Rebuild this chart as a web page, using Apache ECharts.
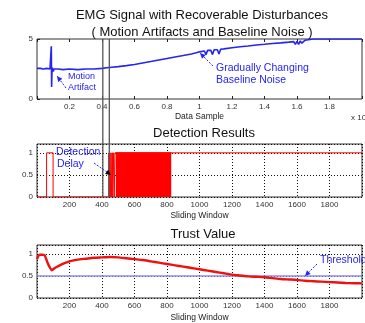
<!DOCTYPE html>
<html>
<head>
<meta charset="utf-8">
<title>EMG Signal</title>
<style>
  html, body { margin: 0; padding: 0; background: #fff; }
  #chart { width: 365px; height: 323px; }
</style>
</head>
<body>
<div id="chart"></div>
<script src="https://cdn.jsdelivr.net/npm/echarts@6.0.0/dist/echarts.min.js"></script>
<script>
// top plot: EMG signal (x in units of 10^4 samples)
var emgX = [0, 0.02, 0.04, 0.06, 0.08, 0.086, 0.088, 0.09, 0.092, 0.095, 0.1, 0.105, 0.11, 0.13, 0.16, 0.2, 0.25, 0.3, 0.35, 0.4,
  0.43, 0.46, 0.5, 0.55, 0.6, 0.65, 0.7, 0.75, 0.8, 0.85, 0.9, 0.95, 0.98, 1.0, 1.03, 1.04, 1.05, 1.07, 1.08, 1.09,
  1.11, 1.12, 1.13, 1.15, 1.2, 1.25, 1.3, 1.35, 1.4, 1.45, 1.5, 1.55, 1.58, 1.59, 1.6, 1.61, 1.62, 1.63, 1.65, 1.68,
  1.7, 1.8, 1.9, 2.0];
var emgY = [2.55, 2.55, 2.5, 2.55, 2.5, 2.4, 4.4, 1.0, 2.2, 2.6, 2.3, 2.5, 2.45, 2.5, 2.45, 2.5, 2.45, 2.5, 2.5, 2.55,
  2.6, 2.65, 2.7, 2.78, 2.88, 3.0, 3.12, 3.25, 3.38, 3.5, 3.62, 3.75, 3.85, 3.93, 4.0, 3.7, 4.05, 4.05, 3.7, 4.1,
  4.1, 3.75, 4.15, 4.18, 4.27, 4.35, 4.42, 4.5, 4.56, 4.63, 4.68, 4.74, 4.78, 4.55, 4.8, 4.55, 4.84, 4.65, 4.9, 4.96,
  5, 5, 5, 5];
var topTickLabels = ['0.2', '0.4', '0.6', '0.8', '1', '1.2', '1.4', '1.6', '1.8'];
var delayMarks = [0.405, 0.445];   // the two grey lines, in top-plot units

// middle plot: detection results (0/1)
var detX = [0, 59, 59, 99, 99, 442, 442, 444, 444, 449, 449, 451, 451, 456, 456, 459, 459, 464, 464, 466, 466, 472, 472, 475, 475, 480, 480, 2000];
var detY = [0, 0, 1, 1, 0, 0, 1, 1, 0, 0, 1, 1, 0, 0, 1, 1, 0, 0, 1, 1, 0, 0, 1, 1, 0, 0, 1, 1];
var burstStart = 485, burstEnd = 826;   // dense toggling, drawn solid

// bottom plot: trust value
var trustX = [0, 8, 16, 30, 46, 55, 65, 78, 91, 110, 140, 170, 200, 250, 300, 350, 400, 450, 500, 550, 600, 650, 700, 750,
  800, 850, 900, 950, 1000, 1050, 1100, 1150, 1200, 1250, 1300, 1350, 1400, 1450, 1500, 1550, 1600, 1650, 1700, 1750,
  1800, 1850, 1900, 1950, 2000];
var trustY = [0.88, 0.95, 0.98, 0.98, 0.97, 0.9, 0.8, 0.7, 0.63, 0.68, 0.74, 0.79, 0.83, 0.87, 0.89, 0.91, 0.92, 0.93, 0.92, 0.9, 0.88, 0.86, 0.83, 0.8,
  0.77, 0.74, 0.71, 0.68, 0.65, 0.62, 0.59, 0.56, 0.53, 0.51, 0.49, 0.48, 0.47, 0.45, 0.43, 0.42, 0.41, 0.39, 0.38, 0.37,
  0.36, 0.35, 0.34, 0.335, 0.33];
var threshold = 0.5;
var winTickLabels = ['200', '400', '600', '800', '1000', '1200', '1400', '1600', '1800'];
var detYTicks = ['0', '0.5', '1'];

function zip(a, b) { return a.map(function (v, i) { return [v, b[i]]; }); }

var FONT = 'Liberation Sans';
var BLUE = '#2424f5';

var chart = echarts.init(document.getElementById('chart'), null, { renderer: 'canvas' });

var gridBox = { show: true, borderColor: '#333', borderWidth: 1, backgroundColor: '#fff' };
var tick = { inside: true, length: 3, lineStyle: { color: '#222' } };
var dotted = { show: true, lineStyle: { color: '#111', type: [1, 2], width: 1 } };
var lbl = function (list) {
  return {
    fontFamily: FONT, fontSize: 8, color: '#333', margin: 4,
    formatter: function (v) { var s = String(+v.toFixed(3)); return list.indexOf(s) >= 0 ? s : ''; }
  };
};
var nameStyle = { fontFamily: FONT, fontSize: 8.5, color: '#222' };

var option = {
  animation: false,
  backgroundColor: '#fff',
  grid: [
    Object.assign({ left: 37, top: 39, width: 330, height: 60 }, gridBox),
    Object.assign({ left: 37, top: 144, width: 330, height: 53 }, gridBox),
    Object.assign({ left: 37, top: 245, width: 330, height: 53 }, gridBox)
  ],
  xAxis: [
    { gridIndex: 0, type: 'value', min: 0, max: 2, interval: 0.2, axisLine: { show: false }, axisTick: tick,
      splitLine: { show: false }, axisLabel: lbl(topTickLabels),
      name: 'Data Sample', nameLocation: 'middle', nameGap: 13, nameTextStyle: nameStyle },
    { gridIndex: 0, type: 'value', position: 'top', min: 0, max: 2, interval: 0.2, axisLine: { show: false },
      axisTick: tick, axisLabel: { show: false }, splitLine: { show: false } },
    { gridIndex: 1, type: 'value', min: 0, max: 2000, interval: 200, axisLine: { show: false }, axisTick: { show: false },
      splitLine: dotted, axisLabel: lbl(winTickLabels),
      name: 'Sliding Window', nameLocation: 'middle', nameGap: 14, nameTextStyle: nameStyle },
    { gridIndex: 2, type: 'value', min: 0, max: 2000, interval: 200, axisLine: { show: false }, axisTick: { show: false },
      splitLine: dotted, axisLabel: lbl(winTickLabels),
      name: 'Sliding Window', nameLocation: 'middle', nameGap: 15, nameTextStyle: nameStyle }
  ],
  yAxis: [
    { gridIndex: 0, type: 'value', min: 0, max: 5, interval: 5, axisLine: { show: false }, axisTick: tick,
      splitLine: { show: false }, axisLabel: lbl(['0', '5']) },
    { gridIndex: 1, type: 'value', min: 0, max: 1.2, interval: 0.5, axisLine: { show: false }, axisTick: { show: false },
      splitLine: dotted, axisLabel: lbl(detYTicks) },
    { gridIndex: 2, type: 'value', min: 0, max: 1.2, interval: 0.5, axisLine: { show: false }, axisTick: { show: false },
      splitLine: dotted, axisLabel: lbl(detYTicks) }
  ],
  series: [
    { type: 'line', xAxisIndex: 0, yAxisIndex: 0, data: zip(emgX, emgY), symbol: 'none',
      lineStyle: { color: BLUE, width: 1.6 }, z: 3 },
    { type: 'line', xAxisIndex: 2, yAxisIndex: 1, data: zip(detX, detY), symbol: 'none',
      lineStyle: { color: '#ff0000', width: 1 }, z: 3 },
    { type: 'line', xAxisIndex: 2, yAxisIndex: 1, data: [[burstStart, 1], [burstEnd, 1]], symbol: 'none',
      lineStyle: { color: '#ff0000', width: 1 }, areaStyle: { color: '#ff0000', opacity: 1 }, z: 3 },
    { type: 'line', xAxisIndex: 3, yAxisIndex: 2, data: [[0, threshold], [2000, threshold]], symbol: 'none',
      lineStyle: { color: '#8c8cf2', width: 1.5 }, z: 2 },
    { type: 'line', xAxisIndex: 3, yAxisIndex: 2, data: zip(trustX, trustY), symbol: 'none', smooth: 0.2,
      lineStyle: { color: '#ee1111', width: 2.4 }, z: 3 }
  ]
};
chart.setOption(option);

// overlay: titles, annotations and the two delay lines
function txt(x, y, s, size, color, align) {
  return { type: 'text', x: x, y: y, z: 50, style: { text: s, fontFamily: FONT, fontSize: size, fill: color || '#111',
    textAlign: align || 'left', textVerticalAlign: 'middle' } };
}
function arrow(x1, y1, x2, y2, color, headColor) {
  var a = Math.atan2(y2 - y1, x2 - x1), L = 6, w = 0.45;
  return [
    { type: 'line', z: 50, shape: { x1: x1, y1: y1, x2: x2, y2: y2 }, style: { stroke: color, lineWidth: 1, lineDash: [2, 1.5] } },
    { type: 'polygon', z: 51, shape: { points: [[x2, y2],
      [x2 - L * Math.cos(a - w), y2 - L * Math.sin(a - w)], [x2 - L * Math.cos(a + w), y2 - L * Math.sin(a + w)]] },
      style: { fill: headColor || color } }
  ];
}

var g = [];
var yTop = chart.convertToPixel({ gridIndex: 0 }, [0, 5])[1];
var yBot = chart.convertToPixel({ gridIndex: 1 }, [0, 0])[1];
delayMarks.forEach(function (m) {
  var px = chart.convertToPixel({ gridIndex: 0 }, [m, 0])[0];
  g.push({ type: 'line', z: 40, shape: { x1: px, y1: yTop, x2: px, y2: yBot }, style: { stroke: '#555', lineWidth: 1.3 } });
});

g.push(txt(202, 15, 'EMG Signal with Recoverable Disturbances', 13, '#111', 'center'));
g.push(txt(202, 32, '( Motion Artifacts and Baseline Noise )', 13, '#111', 'center'));
g.push(txt(204, 133, 'Detection Results', 13, '#111', 'center'));
g.push(txt(203, 234, 'Trust Value', 13, '#111', 'center'));
g.push(txt(351, 118, 'x 10', 8, '#333'));

g.push(txt(68, 77, 'Motion', 9, BLUE));
g.push(txt(68, 88, 'Artifact', 9, BLUE));
g = g.concat(arrow(66, 88, 57, 76, BLUE));
g.push(txt(216, 68, 'Gradually Changing', 10.5, BLUE));
g.push(txt(216, 80, 'Baseline Noise', 10.5, BLUE));
g = g.concat(arrow(213, 66, 200, 53, BLUE));
g.push(txt(56, 152, 'Detection', 10.5, BLUE));
g.push(txt(57, 164, 'Delay', 10.5, BLUE));
g = g.concat(arrow(94, 163, 111, 175, BLUE, '#000'));
g.push(txt(320, 260, 'Threshold', 10.5, BLUE));
g = g.concat(arrow(317, 264, 305, 276, BLUE));

chart.setOption({ graphic: g });
</script>
</body>
</html>
